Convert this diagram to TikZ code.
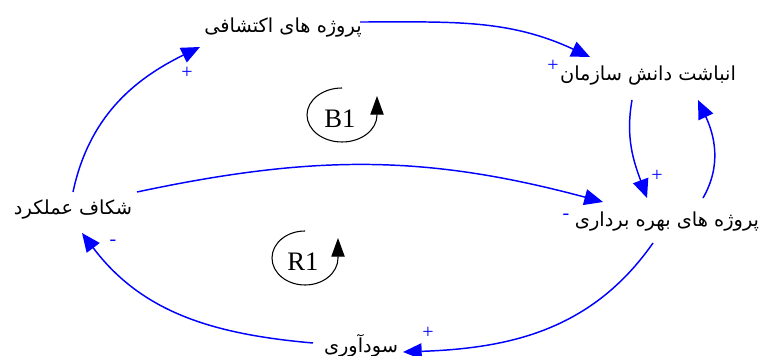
\documentclass[tikz,border=0pt]{standalone}
\usepackage{fontspec}
\setmainfont{Liberation Serif}
\newfontfamily\farsi[Script=Arabic]{DejaVu Sans}
\TeXXeTstate=1
\usetikzlibrary{arrows.meta}

\tikzset{
    var/.style = {inner sep=0pt, font=\farsi\fontsize{14.5}{16}\selectfont},
    link/.style = {blue, line width=1.1pt, -{Triangle[length=14pt, width=12pt]}},
    sign/.style = {blue, inner sep=0pt, font=\fontsize{15}{15}\selectfont},
    loopmark/.style = {black, line width=0.8pt, -{Triangle[length=14pt, width=10pt]}},
}

\begin{document}
\begin{tikzpicture}[x=0.75pt, y=0.75pt]
    \useasboundingbox (0,0) rectangle (759,356);

    % variables
    \node (explor) [var] at (283,328) {\beginR پروژه های اکتشافی\endR};
    \node (know) [var] at (648,280) {\beginR انباشت دانش سازمان\endR};
    \node (gap) [var] at (73,146) {\beginR شکاف عملکرد\endR};
    \node (exploit) [var] at (667,134) {\beginR پروژه های بهره برداری\endR};
    \node (profit) [var] at (361,10) {\beginR سودآوری\endR};

    % links
    \draw [link]
        ([shift={(0,18)}]gap.center) to [out=78, in=206] ([shift={(-83,-19)}]explor.center)
        ;
    \draw [link]
        ([shift={(77,6)}]explor.center) to [out=0, in=155] ([shift={(-58,19)}]know.center)
        ;
    \draw [link]
        ([shift={(-16,-24)}]know.center) to [out=260, in=110] ([shift={(-20,24)}]exploit.center)
        ;
    \draw [link]
        ([shift={(36,24)}]exploit.center) to [out=60, in=295] ([shift={(50,-24)}]know.center)
        ;
    \draw [link]
        ([shift={(64,18)}]gap.center) to [out=12, in=165] ([shift={(-64,20)}]exploit.center)
        ;
    \draw [link]
        ([shift={(-14,-21)}]exploit.center) to [out=235, in=2] ([shift={(42,-6)}]profit.center)
        ;
    \draw [link]
        ([shift={(-48,3)}]profit.center) to [out=175, in=-53] ([shift={(9,-23)}]gap.center)
        ;

    % polarities
    \node (pol1) [sign] at (187,283) {+};
    \node (pol2) [sign] at (553,290) {+};
    \node (pol3) [sign] at (657,180) {+};
    \node (pol4) [sign] at (566,139) {-};
    \node (pol5) [sign] at (428,23) {+};
    \node (pol6) [sign] at (113,113) {-};

    % loops
    \node (b1) at (340,237) {\fontsize{20}{22}\selectfont B1};
    \draw [loopmark]
        ([shift={(2,31)}]b1.center) arc [start angle=90, end angle=360, x radius=35, y radius=27] -- ++(0,19)
        ;
    \node (r1) at (303,94) {\fontsize{20}{22}\selectfont R1};
    \draw [loopmark]
        ([shift={(2,31)}]r1.center) arc [start angle=90, end angle=360, x radius=33, y radius=27] -- ++(0,20)
        ;
\end{tikzpicture}
\end{document}
